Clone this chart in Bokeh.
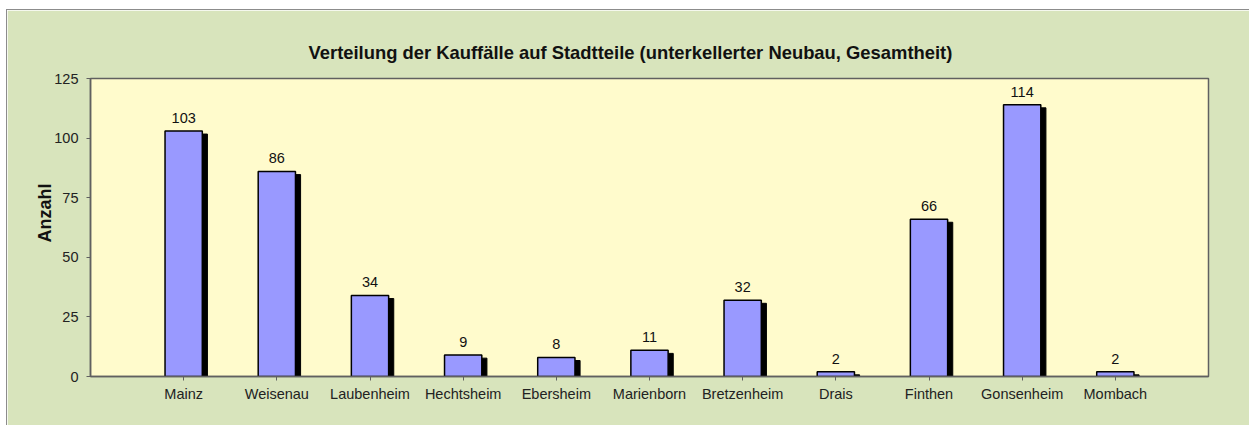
from bokeh.plotting import figure
from bokeh.models import ColumnDataSource, FixedTicker, Range1d, FactorRange, LabelSet, Title
from bokeh.transform import dodge
from bokeh.core.properties import value
from bokeh.embed import file_html
from bokeh.resources import INLINE

districts = ["Mainz", "Weisenau", "Laubenheim", "Hechtsheim", "Ebersheim", "Marienborn",
             "Bretzenheim", "Drais", "Finthen", "Gonsenheim", "Mombach"]
counts = [103, 86, 34, 9, 8, 11, 32, 2, 66, 114, 2]
y_ticks = [0, 25, 50, 75, 100, 125]

title_text = "Verteilung der Kauffälle auf Stadtteile (unterkellerter Neubau, Gesamtheit)"
y_label = "Anzahl"

FONT = "Liberation Sans"
OUTER = "#d8e4bc"
INNER = "#fffbcc"
BAR = "#9999ff"

src = ColumnDataSource(dict(
    x=districts,
    top=counts,
    shadow_top=[max(c - 1.3, 0) for c in counts],
    lab=[str(c) for c in counts],
))

p = figure(width=1243, height=416, output_backend="svg", toolbar_location=None,
           x_range=FactorRange(*districts, range_padding=0.5, range_padding_units="absolute"),
           y_range=Range1d(0, 125),
           min_border_left=83, min_border_right=42, min_border_top=68, min_border_bottom=50,
           background_fill_color=INNER, border_fill_color=OUTER)

p.title.text = title_text
p.title.text_font = FONT
p.title.text_font_size = "18.4px"
p.title.text_font_style = "bold"
p.title.text_color = "#111111"
p.title.align = "left"
p.title.offset = 218
p.title.standoff = 32

ytitle = Title(text=y_label, text_font=FONT, text_font_size="18px", text_font_style="bold",
               text_color="#111111", align="left", offset=134, standoff=-6)
p.add_layout(ytitle, "left")

p.vbar(x=dodge("x", 0.055, range=p.x_range), top="shadow_top", bottom=0, width=0.4,
       source=src, fill_color="black", line_color="black")
p.vbar(x="x", top="top", bottom=0, width=0.4, source=src,
       fill_color=BAR, line_color="black", line_width=1.5)

labels = LabelSet(x="x", y="top", text="lab", source=src, text_align="center",
                  y_offset=8, text_font=value(FONT), text_font_size="14.5px",
                  text_color="#111111")
p.add_layout(labels)

p.grid.visible = False
p.outline_line_color = "#606060"
p.outline_line_width = 1.5

p.yaxis.ticker = FixedTicker(ticks=y_ticks)
p.yaxis.minor_tick_line_color = None

for ax in (p.xaxis[0], p.yaxis[0]):
    ax.major_label_text_font = FONT
    ax.major_label_text_font_size = "14.5px"
    ax.major_label_text_color = "#222222"
    ax.axis_line_color = "#606060"
    ax.axis_line_width = 1.5
    ax.major_tick_line_color = "#606060"
    ax.major_tick_out = 4
    ax.major_tick_in = 0
    ax.major_label_standoff = 8

p.xaxis.major_label_standoff = 5

p.styles = {"margin-left": "6px", "margin-top": "9px",
            "border-top": "1px solid #8c8c8c", "border-left": "1px solid #8c8c8c"}

open("out.html", "w").write(file_html(p, INLINE))
